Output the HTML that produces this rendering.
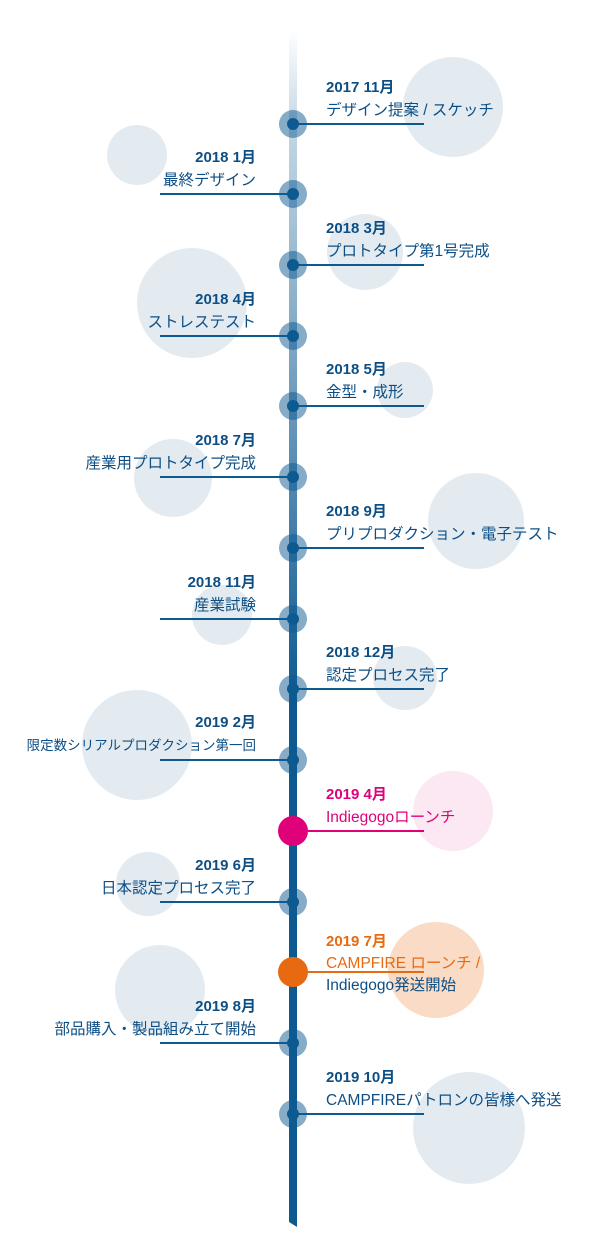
<!DOCTYPE html>
<html><head><meta charset="utf-8"><style>
html,body{margin:0;padding:0;background:#fff;}
svg{display:block}
text{font-family:"Liberation Sans","Noto Sans CJK JP",sans-serif;font-size:15.5px;fill:#0d4f85}
.b{font-weight:bold;font-size:15px}
</style></head><body>
<svg width="600" height="1255" viewBox="0 0 600 1255" xmlns="http://www.w3.org/2000/svg">
<defs>
<linearGradient id="g" x1="0" y1="30" x2="0" y2="700" gradientUnits="userSpaceOnUse">
<stop offset="0" stop-color="#0d5a91" stop-opacity="0"/>
<stop offset="0.15" stop-color="#0d5a91" stop-opacity="0.25"/>
<stop offset="1" stop-color="#0d5a91" stop-opacity="1"/>
</linearGradient>
</defs>
<g fill="#e3ebf1">
<circle cx="453" cy="107" r="50"/>
<circle cx="137" cy="155" r="30"/>
<circle cx="365" cy="252" r="38"/>
<circle cx="192" cy="303" r="55"/>
<circle cx="405" cy="390" r="28"/>
<circle cx="173" cy="478" r="39"/>
<circle cx="476" cy="521" r="48"/>
<circle cx="222" cy="615" r="30"/>
<circle cx="405" cy="678" r="32"/>
<circle cx="137" cy="745" r="55"/>
<circle cx="148" cy="884" r="32"/>
<circle cx="160" cy="990" r="45"/>
<circle cx="469" cy="1128" r="56"/>
</g>
<circle cx="453" cy="811" r="40" fill="#fce8f2"/>
<circle cx="436" cy="970" r="48" fill="#fadcc6"/>
<polygon points="289,30 297,30 297,1227 289,1222" fill="url(#g)"/>
<g stroke="#0d5a91" stroke-width="2">
<line x1="293" y1="124" x2="424" y2="124"/>
<line x1="160" y1="194" x2="293" y2="194"/>
<line x1="293" y1="265" x2="424" y2="265"/>
<line x1="160" y1="336" x2="293" y2="336"/>
<line x1="293" y1="406" x2="424" y2="406"/>
<line x1="160" y1="477" x2="293" y2="477"/>
<line x1="293" y1="548" x2="424" y2="548"/>
<line x1="160" y1="619" x2="293" y2="619"/>
<line x1="293" y1="689" x2="424" y2="689"/>
<line x1="160" y1="760" x2="293" y2="760"/>
<line x1="160" y1="902" x2="293" y2="902"/>
<line x1="160" y1="1043" x2="293" y2="1043"/>
<line x1="293" y1="1114" x2="424" y2="1114"/>
</g>
<line x1="293" y1="831" x2="424" y2="831" stroke="#e0007a" stroke-width="2"/>
<line x1="293" y1="972" x2="424" y2="972" stroke="#e86a10" stroke-width="2"/>
<g>
<g fill="#0d5a91" fill-opacity="0.5">
<circle cx="293" cy="124" r="14"/><circle cx="293" cy="194" r="14"/><circle cx="293" cy="265" r="14"/>
<circle cx="293" cy="336" r="14"/><circle cx="293" cy="406" r="14"/><circle cx="293" cy="477" r="14"/>
<circle cx="293" cy="548" r="14"/><circle cx="293" cy="619" r="14"/><circle cx="293" cy="689" r="14"/>
<circle cx="293" cy="760" r="14"/><circle cx="293" cy="902" r="14"/><circle cx="293" cy="1043" r="14"/>
<circle cx="293" cy="1114" r="14"/>
</g>
<g fill="#0d5a91">
<circle cx="293" cy="124" r="6"/><circle cx="293" cy="194" r="6"/><circle cx="293" cy="265" r="6"/>
<circle cx="293" cy="336" r="6"/><circle cx="293" cy="406" r="6"/><circle cx="293" cy="477" r="6"/>
<circle cx="293" cy="548" r="6"/><circle cx="293" cy="619" r="6"/><circle cx="293" cy="689" r="6"/>
<circle cx="293" cy="760" r="6"/><circle cx="293" cy="902" r="6"/><circle cx="293" cy="1043" r="6"/>
<circle cx="293" cy="1114" r="6"/>
</g>
<circle cx="293" cy="831" r="15" fill="#e0007a"/>
<circle cx="293" cy="972" r="15" fill="#e86a10"/>
</g>
<g>
<text class="b" x="326" y="92">2017 11月</text><text x="326" y="115">デザイン提案 / スケッチ</text>
<text class="b" x="326" y="233">2018 3月</text><text x="326" y="256">プロトタイプ第1号完成</text>
<text class="b" x="326" y="374">2018 5月</text><text x="326" y="397">金型・成形</text>
<text class="b" x="326" y="516">2018 9月</text><text x="326" y="539">プリプロダクション・電子テスト</text>
<text class="b" x="326" y="657">2018 12月</text><text x="326" y="680">認定プロセス完了</text>
<text class="b" x="326" y="799" style="fill:#e0007a">2019 4月</text><text x="326" y="822" style="fill:#e0007a">Indiegogoローンチ</text>
<text class="b" x="326" y="946" style="fill:#e86a10">2019 7月</text><text x="326" y="968" style="fill:#e86a10">CAMPFIRE ローンチ /</text><text x="326" y="990">Indiegogo発送開始</text>
<text class="b" x="326" y="1082">2019 10月</text><text x="326" y="1105">CAMPFIREパトロンの皆様へ発送</text>
</g>
<g text-anchor="end">
<text class="b" x="256" y="162">2018 1月</text><text x="256" y="185">最終デザイン</text>
<text class="b" x="256" y="304">2018 4月</text><text x="256" y="327">ストレステスト</text>
<text class="b" x="256" y="445">2018 7月</text><text x="256" y="468">産業用プロトタイプ完成</text>
<text class="b" x="256" y="587">2018 11月</text><text x="256" y="610">産業試験</text>
<text class="b" x="256" y="727">2019 2月</text><text x="256" y="750" style="font-size:13.5px">限定数シリアルプロダクション第一回</text>
<text class="b" x="256" y="870">2019 6月</text><text x="256" y="893">日本認定プロセス完了</text>
<text class="b" x="256" y="1011">2019 8月</text><text x="256" y="1034">部品購入・製品組み立て開始</text>
</g>
</svg>
</body></html>
